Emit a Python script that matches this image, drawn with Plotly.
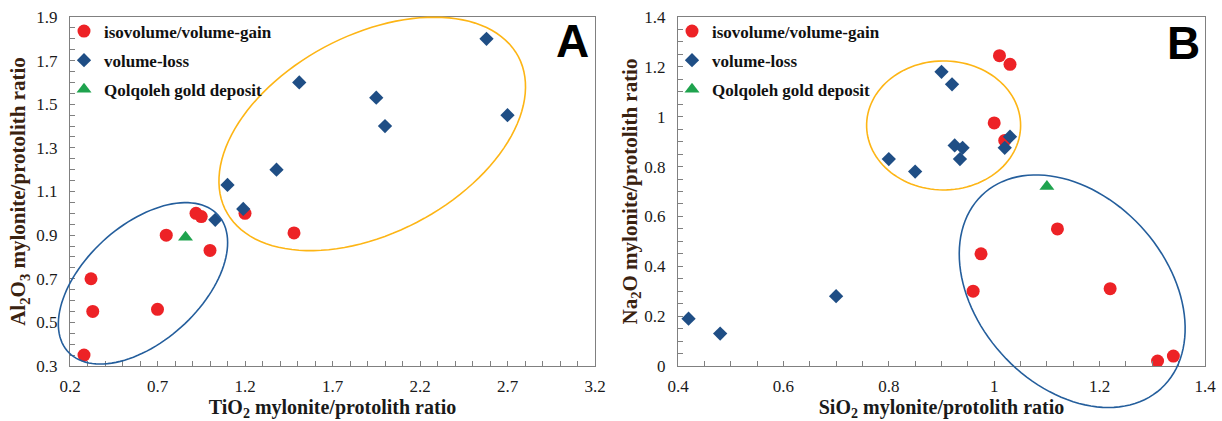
import numpy as np
import plotly.graph_objects as go

# ---------------- data ----------------
# Panel A : TiO2 ratio (x) vs Al2O3 ratio (y)
a_gain_x = [0.28, 0.32, 0.33, 0.70, 0.75, 0.92, 0.95, 1.00, 1.20, 1.48]
a_gain_y = [0.35, 0.70, 0.55, 0.56, 0.90, 1.00, 0.985, 0.83, 1.00, 0.91]
a_loss_x = [1.03, 1.10, 1.19, 1.38, 1.51, 1.95, 2.00, 2.58, 2.70]
a_loss_y = [0.97, 1.13, 1.02, 1.20, 1.60, 1.53, 1.40, 1.80, 1.45]
a_gold_x = [0.86]
a_gold_y = [0.89]

# Panel B : SiO2 ratio (x) vs Na2O ratio (y)
b_gain_x = [1.01, 1.03, 1.00, 1.02, 0.975, 0.96, 1.12, 1.22, 1.31, 1.34]
b_gain_y = [1.245, 1.21, 0.975, 0.905, 0.45, 0.30, 0.55, 0.31, 0.02, 0.04]
b_loss_x = [0.42, 0.48, 0.70, 0.80, 0.85, 0.90, 0.92, 0.925, 0.94, 0.935, 1.03, 1.02]
b_loss_y = [0.19, 0.13, 0.28, 0.83, 0.78, 1.18, 1.13, 0.885, 0.875, 0.83, 0.92, 0.875]
b_gold_x = [1.10]
b_gold_y = [0.72]

series_names = ["isovolume/volume-gain", "volume-loss", "Qolqoleh gold deposit"]

# ---------------- styling / layout constants ----------------
W, H = 1222, 421
ML, MR, MT, MB = 70, 17, 17, 55
PW, PH = W - ML - MR, H - MT - MB
XA_DOM = [0.0, (595 - ML) / PW]
XB_DOM = [(678 - ML) / PW, 1.0]
XA_RANGE, YA_RANGE = [0.2, 3.2], [0.3, 1.9]
XB_RANGE, YB_RANGE = [0.4, 1.4], [0.0, 1.4]

RED, BLUE, GREEN = "#ED2226", "#1F4E85", "#1FA34E"
ELL_BLUE, ELL_YEL = "#245E9C", "#FDB515"
SERIF = "Liberation Serif, Times New Roman, serif"

# ellipse outlines: data centre, semi-axes in px, tilt (deg)
ellipses = [
    dict(panel="A", cx=0.617, cy=0.679, a=101.5, b=58.1, ang=42.3, color=ELL_BLUE),
    dict(panel="A", cx=1.927, cy=1.364, a=165.3, b=99.0, ang=27.85, color=ELL_YEL),
    dict(panel="B", cx=0.904, cy=0.965, a=77.0, b=64.5, ang=0.0, color=ELL_YEL),
    dict(panel="B", cx=1.148, cy=0.300, a=131.8, b=94.4, ang=-47.6, color=ELL_BLUE),
]


def to_paper(panel, x, y):
    dom = XA_DOM if panel == "A" else XB_DOM
    xr = XA_RANGE if panel == "A" else XB_RANGE
    yr = YA_RANGE if panel == "A" else YB_RANGE
    px = dom[0] + (x - xr[0]) / (xr[1] - xr[0]) * (dom[1] - dom[0])
    py = (y - yr[0]) / (yr[1] - yr[0])
    return px, py


def ellipse_path(e, n=120):
    cxp, cyp = to_paper(e["panel"], e["cx"], e["cy"])
    t = np.linspace(0, 2 * np.pi, n)
    th = np.radians(e["ang"])
    dx = e["a"] * np.cos(t) * np.cos(th) - e["b"] * np.sin(t) * np.sin(th)
    dy = e["a"] * np.cos(t) * np.sin(th) + e["b"] * np.sin(t) * np.cos(th)
    xs = cxp + dx / PW
    ys = cyp + dy / PH
    pts = [f"{x:.5f},{y:.5f}" for x, y in zip(xs, ys)]
    return "M " + " L ".join(pts) + " Z"


fig = go.Figure()


def add_panel(gx, gy, lx, ly, tx, ty, xa, ya, leg):
    fig.add_trace(go.Scatter(x=gx, y=gy, mode="markers", name=series_names[0],
                             marker=dict(symbol="circle", size=13, color=RED),
                             xaxis=xa, yaxis=ya, legend=leg, legendgroup=leg + "1"))
    fig.add_trace(go.Scatter(x=lx, y=ly, mode="markers", name=series_names[1],
                             marker=dict(symbol="diamond", size=11, color=BLUE),
                             xaxis=xa, yaxis=ya, legend=leg, legendgroup=leg + "2"))
    fig.add_trace(go.Scatter(x=tx, y=ty, mode="markers", name=series_names[2],
                             marker=dict(symbol="triangle-up", size=13, color=GREEN),
                             xaxis=xa, yaxis=ya, legend=leg, legendgroup=leg + "3"))


add_panel(a_gain_x, a_gain_y, a_loss_x, a_loss_y, a_gold_x, a_gold_y, "x", "y", "legend")
add_panel(b_gain_x, b_gain_y, b_loss_x, b_loss_y, b_gold_x, b_gold_y, "x2", "y2", "legend2")

shapes = [dict(type="path", xref="paper", yref="paper", path=ellipse_path(e),
               line=dict(color=e["color"], width=1.6), layer="above")
          for e in ellipses]

axis_common = dict(showline=True, mirror=True, linecolor="#808080", linewidth=1,
                   ticks="inside", ticklen=5, tickcolor="#808080", tickwidth=1,
                   showgrid=False, zeroline=False,
                   tickfont=dict(family=SERIF, size=17, color="#1a1a1a"),
                   minor=dict(ticks="inside", ticklen=5, tickcolor="#808080", showgrid=False))

title_font_x = dict(family=SERIF, size=20, color="#1a1a1a", weight="bold")
title_font_y = dict(family=SERIF, size=21, color="#3a2210", weight="bold")
legend_font = dict(family=SERIF, size=17, color="#111111", weight="bold")

fig.update_layout(
    width=W, height=H,
    margin=dict(l=ML, r=MR, t=MT, b=MB, autoexpand=False),
    paper_bgcolor="white", plot_bgcolor="white",
    showlegend=True,
    xaxis=dict(domain=XA_DOM, range=XA_RANGE, tick0=0.2, dtick=0.5,
               title=dict(text="TiO<sub>2</sub> mylonite/protolith ratio", font=title_font_x, standoff=4),
               ticklabelstandoff=5, **axis_common),
    yaxis=dict(domain=[0, 1], range=YA_RANGE, tick0=0.3, dtick=0.2,
               title=dict(text="Al<sub>2</sub>O<sub>3</sub> mylonite/protolith ratio", font=title_font_y, standoff=4),
               ticklabelstandoff=8, **axis_common),
    xaxis2=dict(domain=XB_DOM, range=XB_RANGE, tick0=0.4, dtick=0.2, anchor="y2",
                title=dict(text="SiO<sub>2</sub> mylonite/protolith ratio", font=title_font_x, standoff=4),
                ticklabelstandoff=5, **axis_common),
    yaxis2=dict(domain=[0, 1], range=YB_RANGE, tick0=0.0, dtick=0.2, anchor="x2",
                title=dict(text="Na<sub>2</sub>O mylonite/protolith ratio", font=title_font_y, standoff=0),
                ticklabelstandoff=8, **axis_common),
    legend=dict(x=(64 - ML) / PW, y=1.01, xanchor="left", yanchor="top",
                bgcolor="rgba(0,0,0,0)", tracegroupgap=4, font=legend_font),
    legend2=dict(x=(672 - ML) / PW, y=1.01, xanchor="left", yanchor="top",
                 bgcolor="rgba(0,0,0,0)", tracegroupgap=4, font=legend_font),
    shapes=shapes,
    annotations=[
        dict(text="<b>A</b>", x=(572 - ML) / PW, y=(366 - 41) / PH, xref="paper", yref="paper",
             xanchor="center", yanchor="middle", showarrow=False,
             font=dict(family="Liberation Sans, Arial, sans-serif", size=46, color="black")),
        dict(text="<b>B</b>", x=(1183 - ML) / PW, y=(366 - 43) / PH, xref="paper", yref="paper",
             xanchor="center", yanchor="middle", showarrow=False,
             font=dict(family="Liberation Sans, Arial, sans-serif", size=46, color="black")),
    ],
)

fig.write_html("out.html")
